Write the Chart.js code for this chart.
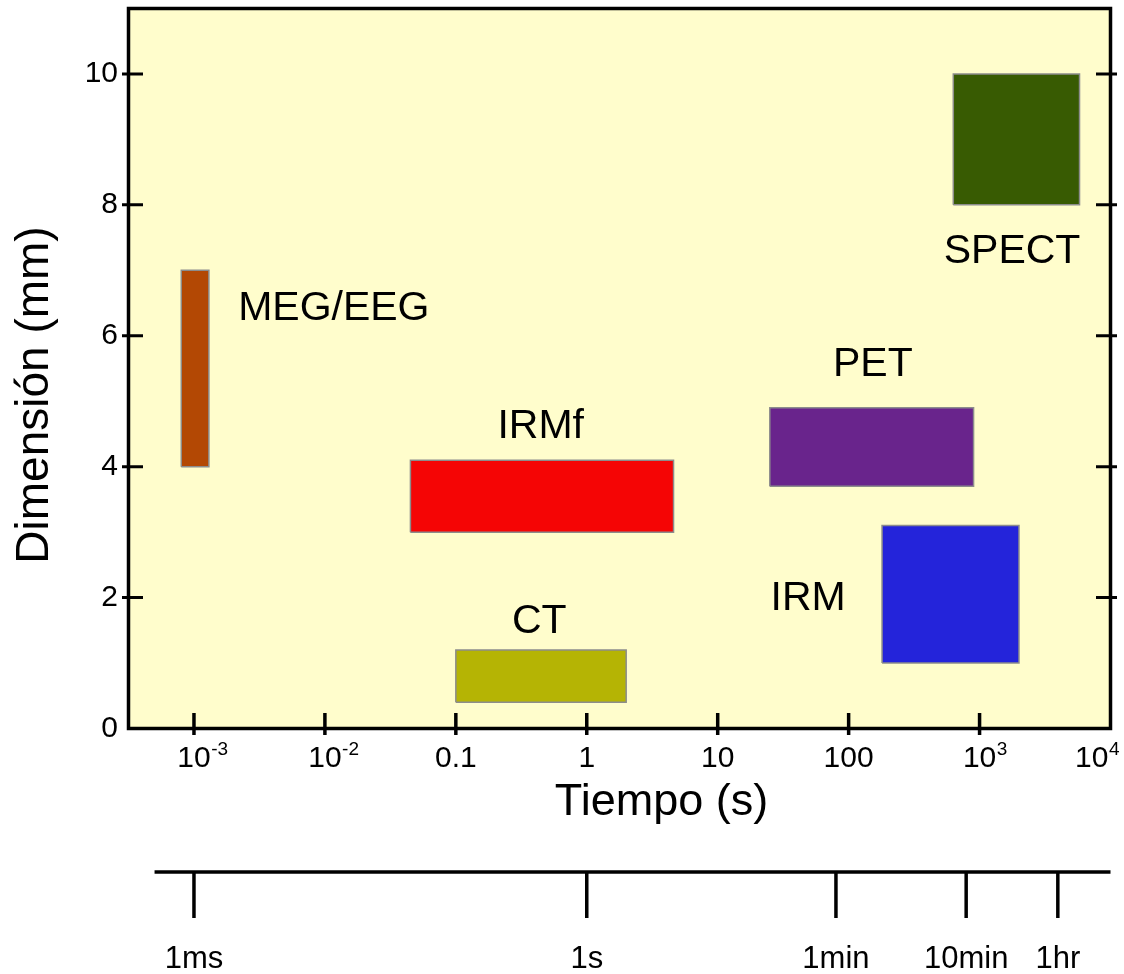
<!DOCTYPE html>
<html>
<head>
<meta charset="utf-8">
<script src="https://cdn.jsdelivr.net/npm/chart.js@4/dist/chart.umd.min.js"></script>
<style>
  html, body { margin: 0; padding: 0; background: #ffffff; }
  #wrap { width: 1124px; height: 974px; position: relative; }
</style>
</head>
<body>
<div id="wrap"><canvas id="c"></canvas></div>
<script>
// Imaging techniques: temporal range (s) vs spatial resolution (mm)
const modalities = ['MEG/EEG', 'IRMf', 'CT', 'PET', 'IRM', 'SPECT'];
const timeStart  = [0.0008, 0.045, 0.1, 25, 180, 630];
const timeEnd    = [0.0013, 4.6, 2.0, 900, 2000, 5800];
const sizeLow    = [4.0, 3.0, 0.4, 3.7, 1.0, 8.0];
const sizeHigh   = [7.0, 4.1, 1.2, 4.9, 3.1, 10.0];

// where each modality name is written (time, size)
const labelTime = [0.0117, 0.445, 0.434, 153, 49, 1770];
const labelSize = [6.47, 4.66, 1.69, 5.61, 2.03, 7.33];

const boxColors = ['#B34804', '#F50505', '#B5B404', '#69248C', '#2424DA', '#385B02'];

// axis ticks
const xTickValues = [1e-3, 1e-2, 0.1, 1, 10, 100, 1e3, 1e4];
const xTickBase   = ['10', '10', '0.1', '1', '10', '100', '10', '10'];
const xTickExp    = ['-3', '-2', '', '', '', '', '3', '4'];
const yTickValues = [0, 2, 4, 6, 8, 10];

// reference time scale drawn under the chart
const clockMarks  = [0.001, 1, 80, 790, 3960];
const clockLabels = ['1ms', '1s', '1min', '10min', '1hr'];
const clockStart  = 5e-4;

const FONT = "'Liberation Sans', Arial, Helvetica, sans-serif";

const datasets = modalities.map((name, i) => ({
  label: name,
  data: [
    { x: timeStart[i], y: sizeLow[i] },
    { x: timeEnd[i],   y: sizeLow[i] },
    { x: timeEnd[i],   y: sizeHigh[i] },
    { x: timeStart[i], y: sizeHigh[i] },
    { x: timeStart[i], y: sizeLow[i] }
  ],
  showLine: true,
  fill: 'shape',
  backgroundColor: boxColors[i],
  borderColor: '#8c8c8c',
  borderWidth: 1.5,
  pointRadius: 0,
  pointHoverRadius: 0,
  tension: 0
}));

const panelBackground = {
  id: 'panelBackground',
  beforeDatasetsDraw(chart) {
    const { ctx, chartArea: a } = chart;
    ctx.save();
    ctx.fillStyle = '#FFFDCC';
    ctx.fillRect(a.left, a.top, a.right - a.left, a.bottom - a.top);
    ctx.restore();
  }
};

const decorations = {
  id: 'decorations',
  afterDatasetsDraw(chart) {
    const { ctx, chartArea: a, scales: { x, y } } = chart;
    ctx.save();

    // modality names
    ctx.fillStyle = '#000';
    ctx.textAlign = 'center';
    ctx.textBaseline = 'alphabetic';
    const labelPx = 41;
    ctx.font = labelPx + 'px ' + FONT;
    modalities.forEach((name, i) => {
      const px = x.getPixelForValue(labelTime[i]);
      const py = y.getPixelForValue(labelSize[i]);
      ctx.fillText(name, px, py + 0.358 * labelPx);
    });

    // frame
    ctx.strokeStyle = '#000';
    ctx.lineWidth = 3.5;
    ctx.strokeRect(a.left, a.top, a.right - a.left, a.bottom - a.top);

    // y tick marks on both sides
    ctx.lineWidth = 3;
    yTickValues.forEach(v => {
      if (v === 0) return;
      const py = y.getPixelForValue(v);
      ctx.beginPath();
      ctx.moveTo(a.left - 6.5, py); ctx.lineTo(a.left + 14.5, py);
      ctx.moveTo(a.right - 14.5, py); ctx.lineTo(a.right + 6.5, py);
      ctx.stroke();
    });

    // x tick marks
    ctx.lineWidth = 3.5;
    xTickValues.forEach(v => {
      const px = x.getPixelForValue(v);
      if (px > a.right - 3) return;
      ctx.beginPath();
      ctx.moveTo(px, a.bottom - 15.5); ctx.lineTo(px, a.bottom + 6.5);
      ctx.stroke();
    });

    // x tick labels with exponents
    const baseY = a.bottom + 38.5;
    xTickValues.forEach((v, i) => {
      const px = x.getPixelForValue(v);
      ctx.font = '30px ' + FONT;
      const bw = ctx.measureText(xTickBase[i]).width;
      ctx.font = '19px ' + FONT;
      const ew = xTickExp[i] ? ctx.measureText(xTickExp[i]).width : 0;
      let left = px - bw / 2;
      if (left + bw + ew > 1119) left = 1119 - bw - ew;
      ctx.textAlign = 'left';
      ctx.font = '30px ' + FONT;
      ctx.fillText(xTickBase[i], left, baseY);
      if (xTickExp[i]) {
        ctx.font = '19px ' + FONT;
        ctx.fillText(xTickExp[i], left + bw + 0.5, baseY - 12);
      }
    });

    // axis titles
    ctx.textAlign = 'center';
    ctx.font = '45px ' + FONT;
    ctx.fillText('Tiempo (s)', (a.left + a.right) / 2 + 42, a.bottom + 86.5);
    ctx.save();
    ctx.translate(a.left - 80.5, (a.top + a.bottom) / 2 + 26.5);
    ctx.rotate(-Math.PI / 2);
    ctx.font = '46px ' + FONT;
    ctx.fillText('Dimensión (mm)', 0, 0);
    ctx.restore();

    // clock-time reference axis
    const lineY = a.bottom + 143.5;
    ctx.lineWidth = 3.5;
    ctx.beginPath();
    ctx.moveTo(x.getPixelForValue(clockStart), lineY);
    ctx.lineTo(a.right, lineY);
    ctx.stroke();
    ctx.font = '31px ' + FONT;
    ctx.textAlign = 'center';
    clockMarks.forEach((v, i) => {
      const px = x.getPixelForValue(v);
      ctx.beginPath();
      ctx.moveTo(px, lineY); ctx.lineTo(px, lineY + 46);
      ctx.stroke();
      ctx.fillText(clockLabels[i], px, lineY + 96);
    });

    ctx.restore();
  }
};

new Chart(document.getElementById('c'), {
  type: 'scatter',
  data: { datasets },
  options: {
    responsive: true,
    maintainAspectRatio: false,
    animation: false,
    layout: { padding: { left: 0, top: 8.5, right: 13.5, bottom: 245.5 } },
    plugins: { legend: { display: false }, tooltip: { enabled: false } },
    events: [],
    scales: {
      x: {
        type: 'logarithmic',
        display: false,
        bounds: 'data',
        min: Math.pow(10, -3.5),
        max: 1e4,
        afterBuildTicks: s => { s.ticks = xTickValues.map(v => ({ value: v })); }
      },
      y: {
        type: 'linear',
        min: 0,
        max: 11,
        afterBuildTicks: s => { s.ticks = yTickValues.map(v => ({ value: v })); },
        afterFit: s => {
          s.width = 128.5;
          s.paddingTop = 0;
          s.paddingBottom = 0;
          s.paddingLeft = 0;
          s.paddingRight = 0;
        },
        ticks: { color: '#000', padding: 10.5, font: { family: FONT, size: 30 } },
        grid: { display: false, drawTicks: false },
        border: { display: false }
      }
    }
  },
  plugins: [panelBackground, decorations]
});
</script>
</body>
</html>
